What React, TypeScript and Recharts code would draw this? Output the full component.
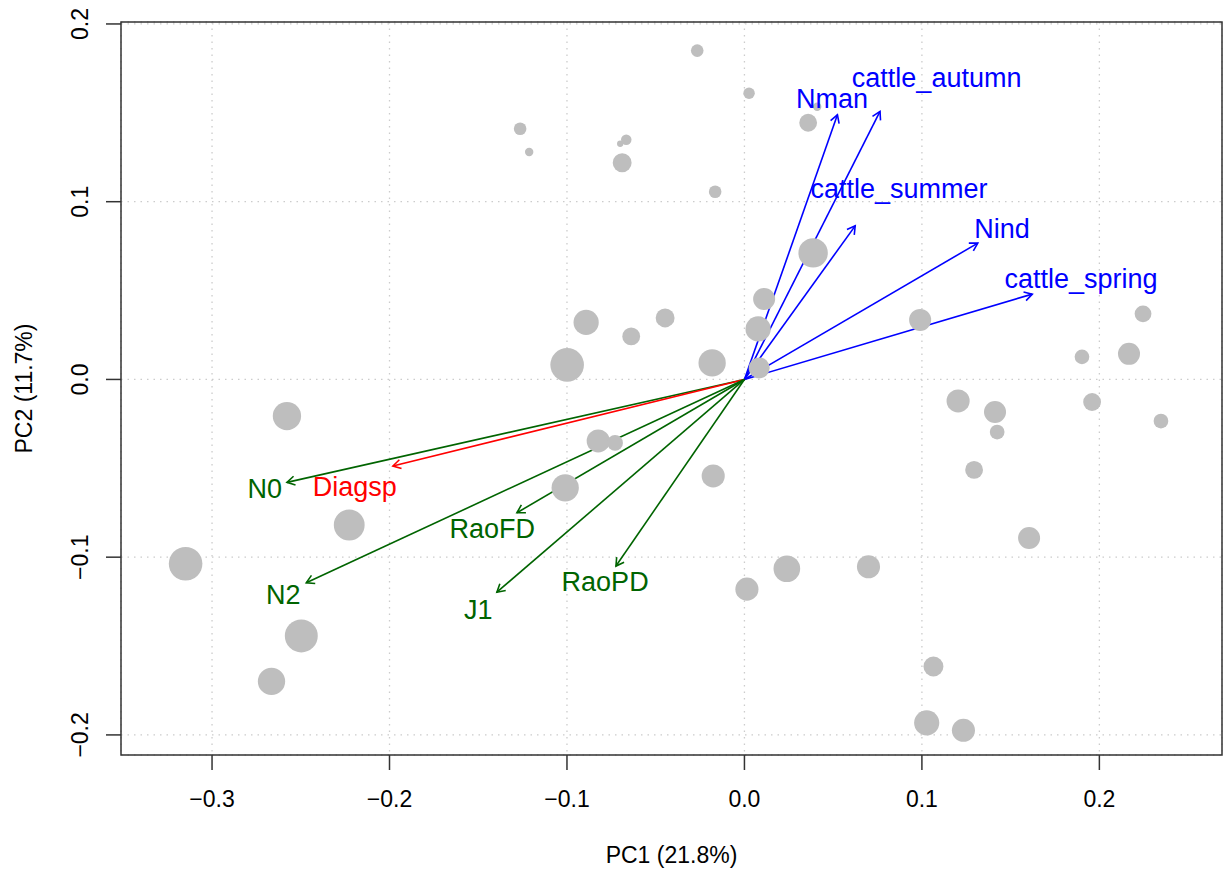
import { ScatterChart, Scatter, XAxis, YAxis, CartesianGrid, ReferenceLine, ReferenceArea } from 'recharts';

// axis setup
const xTicks = [-0.3, -0.2, -0.1, 0, 0.1, 0.2];
const yTicks = [-0.2, -0.1, 0, 0.1, 0.2];
const xDomain = [-0.3513, 0.2691];
const yDomain = [-0.2113, 0.2011];

// site scores on PC1/PC2, w = relative bubble weight (area)
const sites = [
  { x: -0.0266, y: 0.1850, w: 0.36 },
  { x: 0.0026, y: 0.1610, w: 0.30 },
  { x: -0.1264, y: 0.1410, w: 0.36 },
  { x: -0.1213, y: 0.1280, w: 0.16 },
  { x: -0.0700, y: 0.1326, w: 0.09 },
  { x: -0.0666, y: 0.1349, w: 0.25 },
  { x: -0.0689, y: 0.1219, w: 0.81 },
  { x: -0.0165, y: 0.1056, w: 0.36 },
  { x: 0.0359, y: 0.1444, w: 0.72 },
  { x: 0.0410, y: 0.1534, w: 0.16 },
  { x: 0.0387, y: 0.0712, w: 1.96 },
  { x: 0.0111, y: 0.0453, w: 1.10 },
  { x: 0.0077, y: 0.0284, w: 1.44 },
  { x: -0.0182, y: 0.0093, w: 1.69 },
  { x: 0.0083, y: 0.0065, w: 1.00 },
  { x: 0.0990, y: 0.0335, w: 1.10 },
  { x: 0.2246, y: 0.0369, w: 0.64 },
  { x: 0.1902, y: 0.0127, w: 0.49 },
  { x: 0.2167, y: 0.0144, w: 1.10 },
  { x: -0.0892, y: 0.0321, w: 1.44 },
  { x: -0.0638, y: 0.0242, w: 0.72 },
  { x: -0.0447, y: 0.0346, w: 0.81 },
  { x: -0.0999, y: 0.0082, w: 2.56 },
  { x: -0.0824, y: -0.0346, w: 1.21 },
  { x: -0.0729, y: -0.0357, w: 0.56 },
  { x: -0.1010, y: -0.0610, w: 1.69 },
  { x: -0.0176, y: -0.0543, w: 1.21 },
  { x: 0.1204, y: -0.0121, w: 1.21 },
  { x: 0.1412, y: -0.0183, w: 1.10 },
  { x: 0.1424, y: -0.0296, w: 0.49 },
  { x: 0.1294, y: -0.0509, w: 0.72 },
  { x: 0.1959, y: -0.0127, w: 0.72 },
  { x: 0.2347, y: -0.0234, w: 0.49 },
  { x: 0.1604, y: -0.0892, w: 1.10 },
  { x: -0.2578, y: -0.0206, w: 1.82 },
  { x: -0.2227, y: -0.0819, w: 2.16 },
  { x: -0.3149, y: -0.1037, w: 2.56 },
  { x: -0.2497, y: -0.1443, w: 2.46 },
  { x: -0.2665, y: -0.1699, w: 1.69 },
  { x: 0.0014, y: -0.1180, w: 1.21 },
  { x: 0.0239, y: -0.1065, w: 1.61 },
  { x: 0.0699, y: -0.1054, w: 1.21 },
  { x: 0.1065, y: -0.1615, w: 0.90 },
  { x: 0.1027, y: -0.1932, w: 1.44 },
  { x: 0.1234, y: -0.1974, w: 1.21 },
];

// loading vectors
const vectorNames = ['Nman', 'cattle_autumn', 'cattle_summer', 'Nind', 'cattle_spring', 'N0', 'Diagsp', 'RaoFD', 'N2', 'J1', 'RaoPD'];
const vectorGroup = ['env', 'env', 'env', 'env', 'env', 'div', 'resp', 'div', 'div', 'div', 'div'];
const vectorX = [0.0524, 0.0764, 0.0624, 0.1315, 0.1622, -0.2578, -0.1981, -0.1282, -0.2469, -0.1395, -0.0724];
const vectorY = [0.1489, 0.1508, 0.0864, 0.0767, 0.0480, -0.0579, -0.0487, -0.0750, -0.1144, -0.1197, -0.1050];
const labelX = [0.0494, 0.1083, 0.0871, 0.1452, 0.1897, -0.2703, -0.2196, -0.1421, -0.2599, -0.1500, -0.0785];
const labelY = [0.1581, 0.1698, 0.1074, 0.0848, 0.0571, -0.0612, -0.0602, -0.0838, -0.1211, -0.1291, -0.1138];

const groupColor: Record<string, string> = { env: '#0000FF', div: '#006400', resp: '#FF0000' };

const FONT = '"Liberation Sans", Arial, Helvetica, sans-serif';

const fmt = (v: number) => (v < 0 ? '\u2212' : '') + Math.abs(v).toFixed(1);

const XTick = ({ x, y, payload }: any) => (
  <text x={x} y={y} dy={16} textAnchor="middle" fontSize={23} fontFamily={FONT} fill="#000">
    {fmt(payload.value)}
  </text>
);

const YTick = ({ x, y, payload }: any) => (
  <text x={x} y={y} transform={`rotate(-90 ${x} ${y})`} textAnchor="middle" fontSize={23} fontFamily={FONT} fill="#000">
    {fmt(payload.value)}
  </text>
);

const Arrow = (props: any) => {
  const { x1, y1, x2, y2, stroke } = props;
  const ang = Math.atan2(y2 - y1, x2 - x1);
  const len = 9;
  const spread = Math.PI / 6;
  const ax1 = x2 - len * Math.cos(ang - spread);
  const ay1 = y2 - len * Math.sin(ang - spread);
  const ax2 = x2 - len * Math.cos(ang + spread);
  const ay2 = y2 - len * Math.sin(ang + spread);
  return (
    <g>
      <line x1={x1} y1={y1} x2={x2} y2={y2} stroke={stroke} strokeWidth={1.6} />
      <path d={`M${ax1},${ay1}L${x2},${y2}L${ax2},${ay2}`} fill="none" stroke={stroke} strokeWidth={1.6} />
    </g>
  );
};

export default function App() {
  const labelData = vectorNames.map((name, i) => ({
    x: labelX[i],
    y: labelY[i],
    name,
    group: vectorGroup[i],
  }));

  return (
    <div style={{ position: 'absolute', left: 0, top: 0, width: 1223, height: 870, background: '#fff' }}>
      <ScatterChart width={1223} height={870} margin={{ top: 22, right: 1, bottom: 0, left: 0 }}>
        <CartesianGrid stroke="#cccccc" strokeDasharray="1.5 5" strokeWidth={1.3} />
        <XAxis
          type="number"
          dataKey="x"
          domain={xDomain}
          allowDataOverflow
          ticks={xTicks}
          interval={0}
          height={115}
          tickSize={15}
          tickMargin={21}
          axisLine={false}
          tickLine={{ stroke: '#333', strokeWidth: 1.5 }}
          tick={<XTick />}
          label={{
            content: ({ viewBox }: any) => (
              <text x={viewBox.x + viewBox.width / 2} y={viewBox.y + 108} textAnchor="middle" fontSize={23} fontFamily={FONT} fill="#000">
                PC1 (21.8%)
              </text>
            ),
          }}
        />
        <YAxis
          type="number"
          dataKey="y"
          domain={yDomain}
          allowDataOverflow
          ticks={yTicks}
          interval={0}
          width={121}
          tickSize={15}
          tickMargin={18}
          axisLine={false}
          tickLine={{ stroke: '#333', strokeWidth: 1.5 }}
          tick={<YTick />}
          label={{
            content: ({ viewBox }: any) => {
              const cx = viewBox.x + 32;
              const cy = viewBox.y + viewBox.height / 2;
              return (
                <text x={cx} y={cy} transform={`rotate(-90 ${cx} ${cy})`} textAnchor="middle" fontSize={23} fontFamily={FONT} fill="#000">
                  PC2 (11.7%)
                </text>
              );
            },
          }}
        />
        <Scatter
          data={sites}
          isAnimationActive={false}
          fill="#BEBEBE"
          shape={(p: any) => <circle cx={p.cx} cy={p.cy} r={10.5 * Math.sqrt(p.payload.w)} fill="#BEBEBE" />}
        />
        {vectorNames.map((name, i) => (
          <ReferenceLine
            key={name}
            segment={[{ x: 0, y: 0 }, { x: vectorX[i], y: vectorY[i] }]}
            stroke={groupColor[vectorGroup[i]]}
            shape={<Arrow />}
          />
        ))}
        <Scatter
          data={labelData}
          isAnimationActive={false}
          shape={(p: any) => (
            <text x={p.cx} y={p.cy} dy="0.36em" textAnchor="middle" fontSize={27} fontFamily={FONT} fill={groupColor[p.payload.group]}>
              {p.payload.name}
            </text>
          )}
        />
        <ReferenceArea
          x1={xDomain[0]}
          x2={xDomain[1]}
          y1={yDomain[0]}
          y2={yDomain[1]}
          fill="none"
          fillOpacity={0}
          stroke="#333"
          strokeWidth={1.5}
          ifOverflow="visible"
        />
      </ScatterChart>
    </div>
  );
}
